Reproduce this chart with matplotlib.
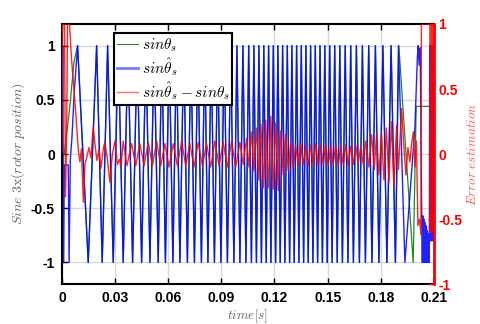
import numpy as np
import matplotlib
matplotlib.use('Agg')
import matplotlib.pyplot as plt

plt.rcParams['mathtext.fontset'] = 'cm'

# times in ms
peak_t = [8.86, 19.59, 25.80, 31.78, 37.26, 42.45, 47.42, 52.05, 56.39, 60.57,
          64.64, 68.76, 72.82, 76.77, 80.61, 84.28, 87.95, 91.62, 95.29, 98.79,
          102.17, 105.45, 108.38, 111.21, 113.97, 116.68, 119.34, 121.93, 124.59, 127.24,
          129.84, 132.49, 135.14, 137.74, 140.39, 143.04, 145.70, 148.41, 151.17, 154.00,
          156.88, 159.92, 163.03, 166.24, 169.63, 173.19, 176.97, 181.20, 185.83]
trough_t = [14.85, 22.75, 28.96, 34.60, 39.91, 44.99, 49.68, 54.36, 58.43, 62.66,
            66.61, 70.84, 74.80, 78.75, 82.42, 86.09, 89.76, 93.42, 97.09, 100.48,
            103.87, 106.97, 109.80, 112.62, 115.33, 117.98, 120.63, 123.23, 125.88, 128.54,
            131.13, 133.79, 136.44, 139.04, 141.69, 144.34, 147.05, 149.76, 152.53, 155.41,
            158.34, 161.45, 164.55, 167.94, 171.33, 175.00, 178.95, 183.46, 188.26]

# sin(theta_s): start and end parts
green_start_t = [0.0, 1.3, 4.5, 6.8]
green_start_v = [0.0, 0.0, 0.44, 0.85]
green_end_t = [190.2, 198.3, 200.0, 210.0]
green_end_v = [1.0, -1.0, 0.44, 0.44]

# sin(theta_s hat): start and end parts
blue_start_t = [0.11, 0.45, 0.90, 1.41, 3.56, 4.06, 4.74, 5.65, 7.06]
blue_start_v = [0.0, 1.0, -1.0, -0.1, -0.1, -1.0, -0.05, 0.15, 0.6]
blue_end_t = [189.96, 193.62, 199.27, 200.68, 201.12, 201.69, 202.25, 203.10,
              203.45, 203.73, 204.01, 204.30, 204.58, 204.86, 205.14, 205.42, 205.70,
              205.99, 206.27, 206.55, 206.83, 207.11, 207.40, 207.62, 207.90, 208.19,
              208.47, 208.75, 209.03, 209.31, 209.60, 209.88]
blue_end_v = [1.0, -1.0, 0.25, 0.9, 1.0, 0.82, 0.98, -0.55,
              -1.0, -0.57, -1.0, -0.6, -1.0, -0.63, -1.0, -0.66, -1.0,
              -0.7, -1.0, -0.73, -1.0, -0.77, -1.0, 1.0, -0.8, 1.0,
              -0.8, 1.0, -0.8, 1.0, -0.8, 1.0]

# error estimation
err_t = [0.0, 0.34, 1.47, 2.03, 2.71, 3.16, 4.29, 5.48, 6.49, 7.90,
         9.31, 10.16, 11.01, 12.08, 12.98, 14.11, 15.24, 16.37, 17.67, 18.63,
         19.76, 20.89, 22.02, 23.43, 24.27, 25.69, 27.10, 28.51, 29.92, 31.33,
         32.46, 33.31, 34.60, 36.69, 39.35, 41.66, 44.03, 46.35, 48.72, 51.09,
         53.46, 55.77, 58.14, 60.46, 62.83, 65.20, 67.57, 69.88, 72.26, 74.57,
         76.94, 79.31, 81.68, 83.99, 86.37, 88.68, 91.05, 93.42, 95.79, 98.11,
         100.48, 102.34, 104.26, 105.56, 106.97, 108.38, 109.80, 111.21, 112.34, 113.64,
         115.05, 116.46, 117.88, 119.29, 120.70, 122.11, 123.53, 124.94, 126.35, 127.76,
         129.17, 130.58, 131.98, 133.39, 134.80, 136.21, 137.63, 139.04, 140.45, 141.86,
         143.27, 144.68, 146.09, 147.50, 148.92, 150.33, 151.74, 153.15, 154.56, 155.97,
         157.39, 158.80, 160.21, 161.62, 163.03, 164.44, 165.85, 167.27, 168.68, 170.09,
         171.61, 173.30, 174.83, 176.29, 177.65, 178.95, 180.47, 181.78, 183.18, 184.60,
         186.01, 187.41, 188.94, 189.96, 191.76, 193.06, 194.19, 195.32, 196.45, 197.58,
         198.42, 199.27, 200.12, 200.96, 201.81, 202.66, 202.94, 207.74, 207.90, 208.19,
         208.47, 208.75, 209.03, 209.31, 209.60, 209.88]
err_v = [0.0, 1.0, 1.0, -0.33, 0.2, 1.0, 1.0, 0.72, 0.55, 0.3,
         0.02, -0.06, 0.04, -0.37, -0.08, -0.02, 0.05, -0.03, 0.21, 0.08,
         -0.05, 0.03, -0.11, 0.05, 0.09, -0.04, -0.22, 0.0, 0.1, -0.08,
         -0.04, -0.1, 0.1, -0.09, 0.08, -0.09, 0.08, -0.09, 0.09, -0.09,
         0.1, -0.09, 0.08, -0.1, 0.08, -0.09, 0.1, -0.09, 0.08, -0.1,
         0.09, -0.09, 0.08, -0.1, 0.1, -0.09, 0.09, -0.1, 0.1, -0.1,
         0.09, -0.08, 0.12, -0.1, 0.17, -0.13, 0.2, -0.2, 0.23, -0.26,
         0.26, -0.26, 0.29, -0.27, 0.24, -0.28, 0.18, -0.16, 0.15, -0.13,
         0.09, -0.1, 0.07, -0.09, 0.08, -0.08, 0.06, -0.09, 0.07, -0.08,
         0.08, -0.09, 0.07, -0.08, 0.07, -0.09, 0.06, -0.08, 0.07, -0.09,
         0.06, -0.08, 0.07, -0.09, 0.06, -0.08, 0.07, -0.07, 0.06, -0.08,
         0.1, -0.1, 0.15, -0.12, 0.16, -0.16, 0.15, -0.2, 0.2, -0.22,
         0.25, -0.25, 0.22, -0.12, 0.35, 0.05, -0.16, 0.05, -0.06, 0.1,
         0.17, -0.1, 0.1, -0.55, -0.5, -0.62, 1.0, 1.0, -0.6, 1.0,
         -0.6, 1.0, -0.6, 1.0, -0.6, 1.0]

xticks = [0, 0.03, 0.06, 0.09, 0.12, 0.15, 0.18, 0.21]
xtick_labels = ['0', '0.03', '0.06', '0.09', '0.12', '0.15', '0.18', '0.21']
yticks = [-1, -0.5, 0, 0.5, 1]
ytick_labels = ['-1', '-0.5', '0', '0.5', '1']

# merge peaks (+1) and troughs (-1) into one sequence
mid_t = np.concatenate([peak_t, trough_t])
mid_v = np.concatenate([np.ones(len(peak_t)), -np.ones(len(trough_t))])
order = np.argsort(mid_t)
mid_t, mid_v = mid_t[order], mid_v[order]

green_t = np.concatenate([green_start_t, mid_t, green_end_t]) / 1000
green_v = np.concatenate([green_start_v, mid_v, green_end_v])
blue_t = np.concatenate([blue_start_t, mid_t, blue_end_t]) / 1000
blue_v = np.concatenate([blue_start_v, mid_v, blue_end_v])

fig = plt.figure(figsize=(4.8, 3.24), dpi=100)
ax = fig.add_axes([0.129, 0.123, 0.775, 0.803])
ax2 = ax.twinx()

l1, = ax.plot(green_t, green_v, color='#1f8a1f', lw=0.9)
l2, = ax.plot(blue_t, blue_v, color='#0a0aff', lw=1.0, alpha=0.9)
l3, = ax2.plot(np.array(err_t) / 1000, err_v, color='#ff0000', lw=1.0, alpha=0.85)

tick_font = dict(family='Liberation Sans', weight='bold', size=10)
ax.set_xlim(0, 0.21)
ax.set_ylim(-1.2, 1.2)
ax.set_xticks(xticks)
ax.set_xticklabels(xtick_labels, **tick_font)
ax.set_yticks(yticks)
ax.set_yticklabels(ytick_labels, **tick_font)
ax.grid(True, color='#d8d8d8', lw=1)
ax.set_axisbelow(True)
ax.tick_params(direction='in', length=4, width=1, top=True, right=False, pad=5)
for s in ['left', 'bottom', 'top']:
    ax.spines[s].set_linewidth(1.5)
ax.spines['right'].set_visible(False)

ax2.set_ylim(-1, 1)
ax2.set_yticks(yticks)
ax2.set_yticklabels(ytick_labels, color='red', **tick_font)
ax2.tick_params(direction='in', length=4, width=1, colors='red', pad=3)
for s in ['left', 'bottom', 'top']:
    ax2.spines[s].set_visible(False)
ax2.spines['right'].set_color('red')
ax2.spines['right'].set_linewidth(2)

ax.set_xlabel(r'$time[s]$', color='#666666', fontsize=9.5, labelpad=2)
ax.set_ylabel(r'$Sine\ 3\mathrm{x}(rotor\ position)$', color='#666666', fontsize=10, labelpad=3)
ax2.set_ylabel(r'$Error\ estimation$', color='#ff5a5a', fontsize=9.5, labelpad=3)

leg = ax2.legend([l1, l2, l3],
                 [r'$sin\theta_s$', r'$sin\hat{\theta}_s$', r'$sin\hat{\theta}_s - sin\theta_s$'],
                 loc='upper left', bbox_to_anchor=(0.14, 0.965), fontsize=11,
                 fancybox=False, framealpha=1, edgecolor='black', handlelength=1.4,
                 handletextpad=0.2, borderpad=0.2, labelspacing=0.15, borderaxespad=0)
leg.get_frame().set_linewidth(1.5)
hl = leg.get_lines()
hl[0].set_color('#1f8a1f')
hl[0].set_linewidth(0.8)
hl[1].set_color('#7a7aff')
hl[1].set_linewidth(2)
hl[1].set_alpha(1)
hl[2].set_color('#ff6a6a')
hl[2].set_linewidth(1)
hl[2].set_alpha(1)

fig.savefig('out.png', dpi=100)
